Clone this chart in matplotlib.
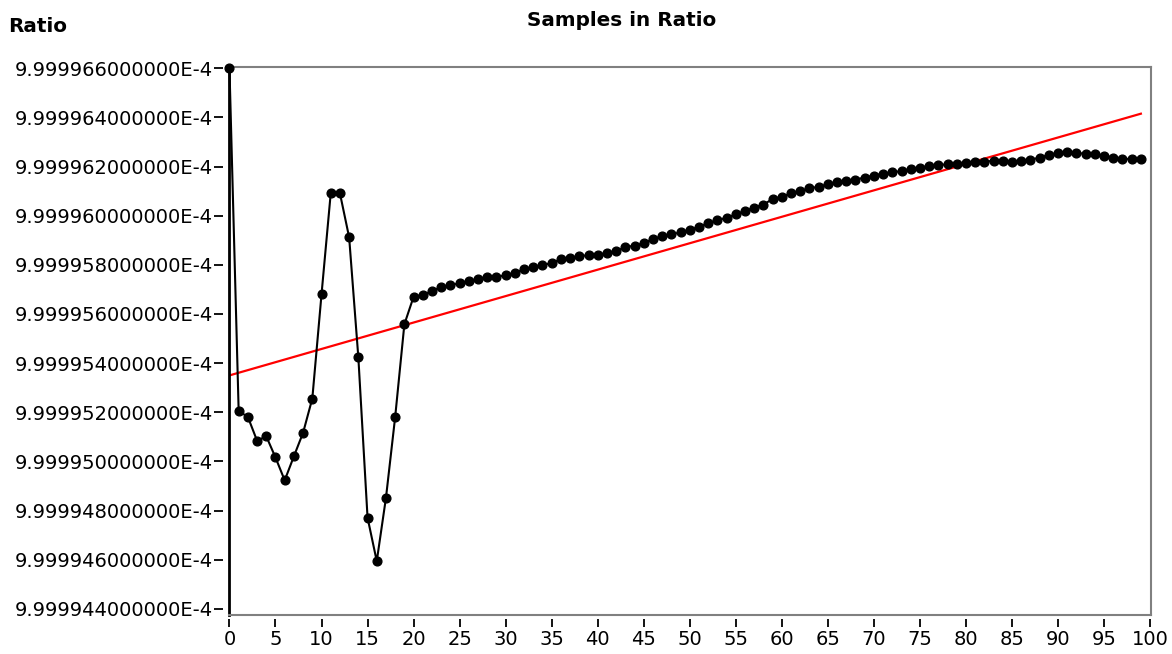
import matplotlib
matplotlib.use("Agg")
import matplotlib.pyplot as plt
from matplotlib.ticker import FixedLocator, FuncFormatter

samples = list(range(100))
ratio = [
    9.99996600e-4, 9.99995205e-4, 9.99995181e-4, 9.99995084e-4, 9.99995102e-4,
    9.99995016e-4, 9.99994923e-4, 9.99995021e-4, 9.99995117e-4, 9.99995256e-4,
    9.99995680e-4, 9.99996091e-4, 9.99996091e-4, 9.99995912e-4, 9.99995423e-4,
    9.99994771e-4, 9.99994594e-4, 9.99994852e-4, 9.99995181e-4, 9.99995558e-4,
    9.99995670e-4, 9.99995677e-4, 9.99995693e-4, 9.99995710e-4, 9.99995717e-4,
    9.99995725e-4, 9.99995733e-4, 9.99995742e-4, 9.99995750e-4, 9.99995750e-4,
    9.99995758e-4, 9.99995766e-4, 9.99995783e-4, 9.99995790e-4, 9.99995799e-4,
    9.99995807e-4, 9.99995823e-4, 9.99995829e-4, 9.99995834e-4, 9.99995840e-4,
    9.99995840e-4, 9.99995848e-4, 9.99995856e-4, 9.99995872e-4, 9.99995878e-4,
    9.99995888e-4, 9.99995905e-4, 9.99995916e-4, 9.99995924e-4, 9.99995932e-4,
    9.99995943e-4, 9.99995954e-4, 9.99995970e-4, 9.99995981e-4, 9.99995992e-4,
    9.99996005e-4, 9.99996019e-4, 9.99996033e-4, 9.99996045e-4, 9.99996068e-4,
    9.99996077e-4, 9.99996091e-4, 9.99996100e-4, 9.99996111e-4, 9.99996118e-4,
    9.99996127e-4, 9.99996136e-4, 9.99996141e-4, 9.99996147e-4, 9.99996155e-4,
    9.99996163e-4, 9.99996171e-4, 9.99996176e-4, 9.99996182e-4, 9.99996190e-4,
    9.99996196e-4, 9.99996201e-4, 9.99996206e-4, 9.99996209e-4, 9.99996212e-4,
    9.99996214e-4, 9.99996217e-4, 9.99996220e-4, 9.99996223e-4, 9.99996223e-4,
    9.99996220e-4, 9.99996223e-4, 9.99996228e-4, 9.99996236e-4, 9.99996247e-4,
    9.99996255e-4, 9.99996258e-4, 9.99996255e-4, 9.99996252e-4, 9.99996250e-4,
    9.99996244e-4, 9.99996236e-4, 9.99996231e-4, 9.99996231e-4, 9.99996231e-4,
]
fit_x = [0, 99]
fit_y = [9.99995350e-4, 9.99996415e-4]

y_ticks = [9.99994400e-4, 9.99994600e-4, 9.99994800e-4, 9.99995000e-4,
           9.99995200e-4, 9.99995400e-4, 9.99995600e-4, 9.99995800e-4,
           9.99996000e-4, 9.99996200e-4, 9.99996400e-4, 9.99996600e-4]
x_ticks = list(range(0, 101, 5))

W, H = 1172, 654
fig = plt.figure(figsize=(W / 100, H / 100), dpi=100)
left, right, top, bottom = 229, 1151, 67, 615
ax = fig.add_axes([left / W, 1 - bottom / H, (right - left) / W, (bottom - top) / H])

ax.plot(fit_x, fit_y, color="#ff0000", lw=1.6, zorder=2)
ax.plot(samples, ratio, color="black", lw=1.5, marker="o", ms=6.3,
        mfc="black", mec="black", zorder=3, clip_on=False)

ax.set_xlim(-0.05, 100.1)
ax.set_ylim(9.99994375e-4, 9.99996605e-4)

fs = 14
fam = ["DejaVu Sans"]
ax.tick_params(left=False, labelleft=False, bottom=False, labelbottom=False)

secy = ax.secondary_yaxis(-0.006)
secy.yaxis.set_major_locator(FixedLocator(y_ticks))
secy.yaxis.set_major_formatter(FuncFormatter(lambda v, p: f"{v * 1e4:.12f}E-4"))
secy.spines["left"].set_visible(False)
secy.tick_params(axis="y", direction="out", length=6.5, width=1.3, pad=1,
                 labelsize=fs, colors="black")
for lab in secy.get_yticklabels():
    lab.set_family(fam)

sec = ax.secondary_xaxis(-0.008)
sec.xaxis.set_major_locator(FixedLocator(x_ticks))
sec.spines["bottom"].set_visible(False)
sec.tick_params(axis="x", direction="out", length=6, width=1.3, pad=2,
                labelsize=fs, colors="black")
for lab in sec.get_xticklabels():
    lab.set_family(fam)

ax.spines["left"].set_color("black")
ax.spines["left"].set_linewidth(2)
for s in ["top", "right", "bottom"]:
    ax.spines[s].set_color("#808080")
    ax.spines[s].set_linewidth(1.5)

fig.text(622 / W, 1 - 20 / H, "Samples in Ratio", ha="center", va="center",
         fontsize=14.4, fontweight="bold", family=fam)
fig.text(8 / W, 1 - 26 / H, "Ratio", ha="left", va="center",
         fontsize=14.4, fontweight="bold", family=fam)

fig.savefig("out.png", dpi=100)
